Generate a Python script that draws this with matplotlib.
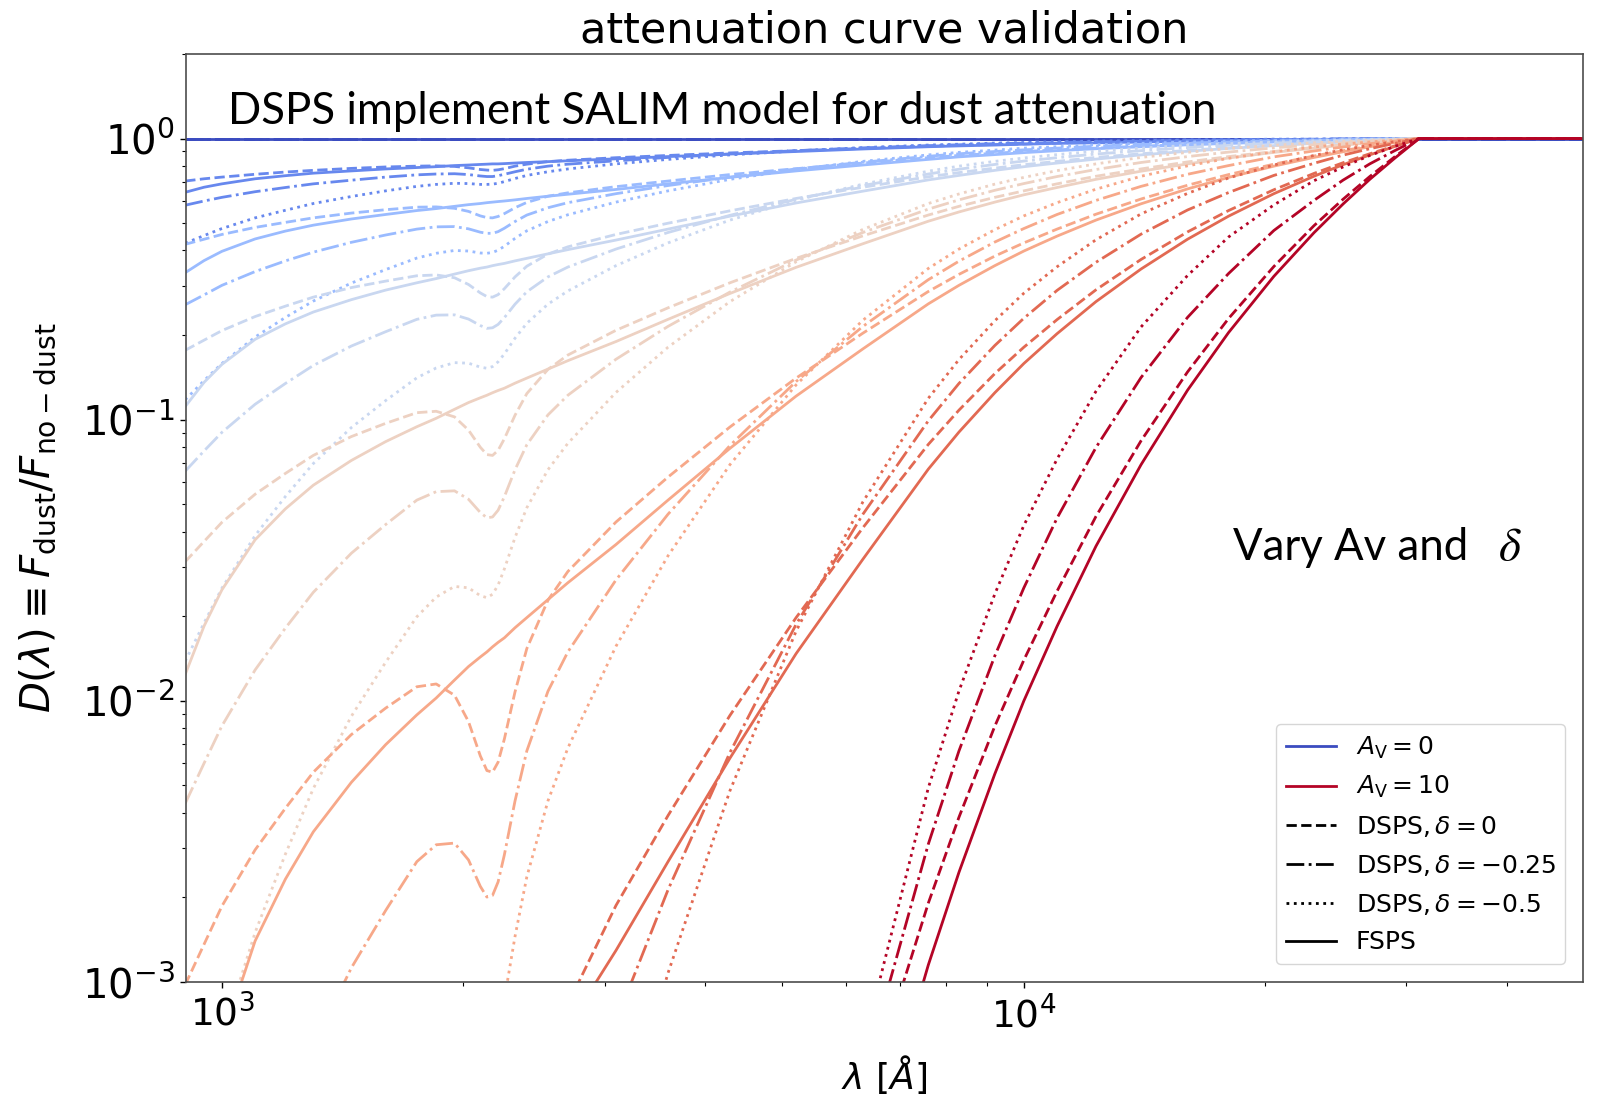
import matplotlib.pyplot as plt
import numpy as np
from matplotlib.lines import Line2D

# wavelength grid [Angstrom]
wave = [900, 950, 1000, 1100, 1200, 1300, 1450, 1600, 1750, 1850,
        1950, 2030, 2100, 2140, 2175, 2210, 2250, 2320, 2400, 2550,
        2700, 3100, 3600, 4300, 5200, 6300, 7600, 8300, 9200, 10000,
        11000, 12300, 14000, 16000, 18000, 20500, 23000, 25000, 27000, 29000, 31100, 50000]

av_values = [0, 0.1, 0.25, 0.5, 1, 2, 4, 10]

ZERO = [0.0] * len(wave)

# log10 D(lambda), DSPS with delta = 0, one row per A_V
lg_dsps_d0 = [
    ZERO,
    [-0.151, -0.143, -0.137, -0.127, -0.119, -0.113, -0.106, -0.101, -0.098, -0.097,
     -0.099, -0.104, -0.110, -0.112, -0.113, -0.111, -0.107, -0.098, -0.091, -0.082,
     -0.077, -0.068, -0.060, -0.051, -0.043, -0.035, -0.027, -0.024, -0.021, -0.019,
     -0.016, -0.013, -0.011, -0.008, -0.006, -0.005, -0.003, -0.002, -0.001, -0.001, 0, 0],
    [-0.376, -0.358, -0.341, -0.316, -0.298, -0.282, -0.265, -0.253, -0.244, -0.243,
     -0.248, -0.259, -0.275, -0.281, -0.282, -0.277, -0.267, -0.246, -0.227, -0.205,
     -0.193, -0.171, -0.151, -0.128, -0.107, -0.087, -0.068, -0.060, -0.052, -0.046,
     -0.040, -0.034, -0.027, -0.021, -0.016, -0.011, -0.008, -0.005, -0.003, -0.002, 0, 0],
    [-0.753, -0.717, -0.683, -0.633, -0.596, -0.564, -0.530, -0.507, -0.488, -0.485,
     -0.495, -0.519, -0.549, -0.562, -0.564, -0.555, -0.534, -0.492, -0.454, -0.411,
     -0.385, -0.341, -0.301, -0.257, -0.213, -0.173, -0.136, -0.121, -0.105, -0.093,
     -0.081, -0.067, -0.054, -0.042, -0.032, -0.023, -0.016, -0.011, -0.007, -0.003, 0, 0],
    [-1.505, -1.433, -1.365, -1.265, -1.191, -1.127, -1.060, -1.013, -0.975, -0.970,
     -0.990, -1.037, -1.098, -1.124, -1.127, -1.109, -1.068, -0.984, -0.907, -0.821,
     -0.770, -0.682, -0.602, -0.513, -0.426, -0.346, -0.272, -0.241, -0.209, -0.186,
     -0.161, -0.134, -0.108, -0.083, -0.064, -0.046, -0.031, -0.022, -0.014, -0.007, 0, 0],
    [-3.01, -2.866, -2.73, -2.53, -2.382, -2.254, -2.12, -2.026, -1.95, -1.94,
     -1.98, -2.074, -2.196, -2.248, -2.254, -2.218, -2.136, -1.968, -1.814, -1.642,
     -1.54, -1.364, -1.204, -1.026, -0.852, -0.692, -0.544, -0.483, -0.418, -0.371,
     -0.322, -0.269, -0.215, -0.166, -0.128, -0.091, -0.062, -0.043, -0.027, -0.013, 0, 0],
    [-6.02, -5.732, -5.46, -5.06, -4.764, -4.508, -4.24, -4.052, -3.90, -3.88,
     -3.96, -4.148, -4.392, -4.496, -4.508, -4.436, -4.272, -3.936, -3.628, -3.284,
     -3.08, -2.728, -2.408, -2.052, -1.704, -1.384, -1.088, -0.966, -0.836, -0.742,
     -0.644, -0.538, -0.43, -0.332, -0.256, -0.182, -0.124, -0.086, -0.054, -0.026, 0, 0],
    [-15.05, -14.33, -13.65, -12.65, -11.91, -11.27, -10.60, -10.13, -9.75, -9.70,
     -9.90, -10.37, -10.98, -11.24, -11.27, -11.09, -10.68, -9.84, -9.07, -8.21,
     -7.70, -6.82, -6.02, -5.13, -4.26, -3.46, -2.72, -2.414, -2.09, -1.855,
     -1.61, -1.344, -1.075, -0.83, -0.64, -0.455, -0.31, -0.216, -0.135, -0.065, 0, 0],
]

# log10 D(lambda), DSPS with delta = -0.25
lg_dsps_d025 = [
    ZERO,
    [-0.237, -0.222, -0.209, -0.189, -0.174, -0.161, -0.148, -0.137, -0.129, -0.126,
     -0.125, -0.128, -0.133, -0.135, -0.135, -0.132, -0.127, -0.118, -0.109, -0.098,
     -0.091, -0.079, -0.067, -0.055, -0.043, -0.033, -0.025, -0.022, -0.018, -0.016,
     -0.014, -0.011, -0.009, -0.006, -0.005, -0.003, -0.002, -0.001, -0.001, 0, 0, 0],
    [-0.591, -0.556, -0.522, -0.473, -0.435, -0.404, -0.369, -0.343, -0.322, -0.314,
     -0.313, -0.321, -0.333, -0.337, -0.337, -0.331, -0.319, -0.295, -0.272, -0.246,
     -0.228, -0.196, -0.167, -0.137, -0.108, -0.084, -0.063, -0.054, -0.046, -0.040,
     -0.034, -0.027, -0.021, -0.016, -0.012, -0.008, -0.006, -0.004, -0.002, -0.001, 0, 0],
    [-1.183, -1.111, -1.045, -0.945, -0.871, -0.807, -0.738, -0.687, -0.643, -0.628,
     -0.627, -0.642, -0.665, -0.675, -0.673, -0.661, -0.637, -0.589, -0.545, -0.492,
     -0.457, -0.393, -0.334, -0.273, -0.216, -0.167, -0.126, -0.109, -0.092, -0.080,
     -0.068, -0.055, -0.043, -0.032, -0.024, -0.016, -0.011, -0.007, -0.005, -0.002, 0, 0],
    [-2.365, -2.222, -2.089, -1.890, -1.741, -1.614, -1.475, -1.373, -1.286, -1.256,
     -1.253, -1.283, -1.330, -1.349, -1.346, -1.322, -1.274, -1.178, -1.089, -0.983,
     -0.913, -0.785, -0.668, -0.546, -0.432, -0.334, -0.251, -0.218, -0.184, -0.160,
     -0.135, -0.110, -0.085, -0.064, -0.048, -0.033, -0.022, -0.015, -0.009, -0.004, 0, 0],
    [-4.73, -4.444, -4.178, -3.78, -3.482, -3.228, -2.95, -2.746, -2.572, -2.512,
     -2.506, -2.566, -2.66, -2.698, -2.692, -2.644, -2.548, -2.356, -2.178, -1.966,
     -1.826, -1.57, -1.336, -1.092, -0.864, -0.668, -0.502, -0.436, -0.368, -0.320,
     -0.27, -0.220, -0.17, -0.127, -0.096, -0.065, -0.044, -0.030, -0.018, -0.009, 0, 0],
    [-9.46, -8.888, -8.356, -7.56, -6.964, -6.456, -5.90, -5.492, -5.144, -5.02,
     -5.01, -5.13, -5.32, -5.40, -5.38, -5.29, -5.10, -4.71, -4.356, -3.932,
     -3.652, -3.14, -2.672, -2.184, -1.728, -1.336, -1.004, -0.871, -0.736, -0.639,
     -0.54, -0.440, -0.34, -0.254, -0.192, -0.131, -0.088, -0.059, -0.036, -0.017, 0, 0],
    [-23.65, -22.22, -20.89, -18.90, -17.41, -16.14, -14.75, -13.73, -12.86, -12.56,
     -12.53, -12.83, -13.30, -13.49, -13.46, -13.22, -12.74, -11.78, -10.89, -9.83,
     -9.13, -7.85, -6.68, -5.46, -4.32, -3.34, -2.51, -2.178, -1.84, -1.598,
     -1.35, -1.099, -0.85, -0.636, -0.48, -0.327, -0.22, -0.148, -0.09, -0.043, 0, 0],
]

# log10 D(lambda), DSPS with delta = -0.5
lg_dsps_d05 = [
    ZERO,
    [-0.372, -0.345, -0.320, -0.282, -0.255, -0.231, -0.206, -0.186, -0.170, -0.163,
     -0.159, -0.160, -0.163, -0.163, -0.162, -0.159, -0.153, -0.142, -0.131, -0.118,
     -0.108, -0.090, -0.074, -0.058, -0.044, -0.032, -0.023, -0.020, -0.016, -0.014,
     -0.011, -0.009, -0.007, -0.005, -0.004, -0.002, -0.002, -0.001, -0.001, 0, 0, 0],
    [-0.929, -0.861, -0.800, -0.706, -0.636, -0.578, -0.514, -0.466, -0.425, -0.408,
     -0.398, -0.400, -0.407, -0.408, -0.405, -0.397, -0.383, -0.355, -0.328, -0.295,
     -0.271, -0.226, -0.186, -0.145, -0.110, -0.081, -0.058, -0.049, -0.041, -0.034,
     -0.029, -0.022, -0.017, -0.012, -0.009, -0.006, -0.004, -0.003, -0.002, -0.001, 0, 0],
    [-1.859, -1.723, -1.599, -1.412, -1.273, -1.156, -1.028, -0.932, -0.851, -0.816,
     -0.797, -0.799, -0.813, -0.817, -0.811, -0.794, -0.766, -0.710, -0.657, -0.589,
     -0.542, -0.452, -0.371, -0.290, -0.219, -0.162, -0.116, -0.098, -0.081, -0.069,
     -0.057, -0.045, -0.034, -0.024, -0.018, -0.012, -0.008, -0.005, -0.003, -0.001, 0, 0],
    [-3.717, -3.445, -3.198, -2.824, -2.545, -2.312, -2.055, -1.863, -1.701, -1.631,
     -1.593, -1.598, -1.626, -1.633, -1.621, -1.588, -1.531, -1.419, -1.313, -1.178,
     -1.084, -0.903, -0.742, -0.580, -0.438, -0.323, -0.231, -0.197, -0.162, -0.138,
     -0.114, -0.090, -0.067, -0.049, -0.035, -0.024, -0.015, -0.010, -0.006, -0.003, 0, 0],
    [-7.434, -6.89, -6.396, -5.648, -5.09, -4.624, -4.11, -3.726, -3.402, -3.262,
     -3.186, -3.196, -3.252, -3.266, -3.242, -3.176, -3.062, -2.838, -2.626, -2.356,
     -2.168, -1.806, -1.484, -1.16, -0.876, -0.646, -0.462, -0.393, -0.324, -0.275,
     -0.228, -0.180, -0.134, -0.097, -0.07, -0.047, -0.03, -0.020, -0.012, -0.006, 0, 0],
    [-14.87, -13.78, -12.79, -11.30, -10.18, -9.248, -8.22, -7.452, -6.804, -6.52,
     -6.37, -6.39, -6.50, -6.53, -6.48, -6.35, -6.12, -5.68, -5.252, -4.712,
     -4.336, -3.612, -2.968, -2.32, -1.752, -1.292, -0.924, -0.786, -0.648, -0.550,
     -0.456, -0.360, -0.268, -0.195, -0.14, -0.094, -0.06, -0.040, -0.024, -0.011, 0, 0],
    [-37.17, -34.45, -31.98, -28.24, -25.45, -23.12, -20.55, -18.63, -17.01, -16.31,
     -15.93, -15.98, -16.26, -16.33, -16.21, -15.88, -15.31, -14.19, -13.13, -11.78,
     -10.84, -9.03, -7.42, -5.80, -4.38, -3.23, -2.31, -1.965, -1.62, -1.376,
     -1.14, -0.899, -0.67, -0.487, -0.35, -0.236, -0.15, -0.101, -0.06, -0.028, 0, 0],
]

# log10 D(lambda), FSPS
lg_fsps = [
    ZERO,
    [-0.191, -0.173, -0.161, -0.143, -0.132, -0.123, -0.115, -0.108, -0.103, -0.100,
     -0.096, -0.094, -0.092, -0.091, -0.090, -0.090, -0.089, -0.087, -0.085, -0.082,
     -0.079, -0.072, -0.064, -0.055, -0.046, -0.037, -0.029, -0.026, -0.023, -0.020,
     -0.017, -0.015, -0.012, -0.009, -0.007, -0.005, -0.003, -0.002, -0.001, -0.001, 0, 0],
    [-0.477, -0.434, -0.401, -0.357, -0.329, -0.308, -0.286, -0.270, -0.256, -0.249,
     -0.241, -0.235, -0.231, -0.228, -0.226, -0.224, -0.222, -0.218, -0.213, -0.205,
     -0.198, -0.181, -0.161, -0.138, -0.115, -0.094, -0.074, -0.065, -0.057, -0.050,
     -0.043, -0.036, -0.029, -0.022, -0.017, -0.012, -0.008, -0.006, -0.004, -0.002, 0, 0],
    [-0.953, -0.867, -0.803, -0.714, -0.659, -0.617, -0.573, -0.539, -0.513, -0.498,
     -0.482, -0.470, -0.461, -0.457, -0.452, -0.448, -0.444, -0.435, -0.426, -0.410,
     -0.395, -0.361, -0.322, -0.276, -0.229, -0.187, -0.147, -0.131, -0.113, -0.100,
     -0.087, -0.073, -0.058, -0.045, -0.035, -0.025, -0.017, -0.012, -0.007, -0.004, 0, 0],
    [-1.906, -1.734, -1.605, -1.427, -1.317, -1.233, -1.145, -1.078, -1.025, -0.995,
     -0.963, -0.939, -0.922, -0.913, -0.904, -0.896, -0.888, -0.870, -0.852, -0.820,
     -0.790, -0.722, -0.643, -0.551, -0.458, -0.374, -0.294, -0.261, -0.226, -0.200,
     -0.174, -0.145, -0.116, -0.090, -0.069, -0.049, -0.034, -0.023, -0.015, -0.007, 0, 0],
    [-3.812, -3.468, -3.21, -2.854, -2.634, -2.466, -2.29, -2.156, -2.05, -1.99,
     -1.926, -1.878, -1.844, -1.826, -1.808, -1.792, -1.776, -1.74, -1.704, -1.64,
     -1.58, -1.444, -1.286, -1.102, -0.916, -0.748, -0.588, -0.522, -0.452, -0.400,
     -0.347, -0.290, -0.232, -0.179, -0.138, -0.098, -0.067, -0.047, -0.029, -0.014, 0, 0],
    [-7.624, -6.936, -6.42, -5.708, -5.268, -4.932, -4.58, -4.312, -4.10, -3.98,
     -3.852, -3.756, -3.688, -3.652, -3.616, -3.584, -3.552, -3.48, -3.408, -3.28,
     -3.16, -2.888, -2.572, -2.204, -1.832, -1.496, -1.176, -1.044, -0.904, -0.800,
     -0.694, -0.580, -0.464, -0.358, -0.276, -0.196, -0.134, -0.093, -0.058, -0.028, 0, 0],
    [-19.06, -17.34, -16.05, -14.27, -13.17, -12.33, -11.45, -10.78, -10.25, -9.95,
     -9.63, -9.39, -9.22, -9.13, -9.04, -8.96, -8.88, -8.70, -8.52, -8.20,
     -7.90, -7.22, -6.43, -5.51, -4.58, -3.74, -2.94, -2.61, -2.26, -2.00,
     -1.735, -1.45, -1.16, -0.895, -0.69, -0.49, -0.335, -0.233, -0.145, -0.07, 0, 0],
]

LW = 2.0


def main():
    fig = plt.figure(figsize=(15.98, 10.99), dpi=100)
    ax = fig.add_axes([0.1164, 0.1065, 0.8742, 0.8444])

    cmap = plt.cm.coolwarm
    n = len(av_values)
    for i in range(n):
        color = cmap(i / (n - 1))
        ax.plot(wave, 10.0 ** np.array(lg_dsps_d0[i]), ls='--', color=color, lw=LW)
        ax.plot(wave, 10.0 ** np.array(lg_dsps_d025[i]), ls='-.', color=color, lw=LW)
        ax.plot(wave, 10.0 ** np.array(lg_dsps_d05[i]), ls=':', color=color, lw=LW)
        ax.plot(wave, 10.0 ** np.array(lg_fsps[i]), ls='-', color=color, lw=LW)

    ax.set_xscale('log')
    ax.set_yscale('log')
    ax.set_xlim(902, 49800)
    ax.set_ylim(1e-3, 2.0)

    ax.set_title('attenuation curve validation', fontsize=31, pad=8)
    ax.set_xlabel(r'$\lambda\ [\AA]$', fontsize=26)
    ax.xaxis.set_label_coords(0.5, -0.077)
    ax.set_ylabel(r'$D(\lambda) \equiv F_{\rm dust}/F_{\rm no-dust}$', fontsize=29)
    ax.yaxis.set_label_coords(-0.091, 0.5)

    ax.tick_params(which='major', length=4.5, width=1.0)
    ax.tick_params(which='minor', length=2.6, width=0.8)
    ax.tick_params(axis='x', which='major', labelsize=27, pad=5)
    ax.tick_params(axis='y', which='major', labelsize=29)
    for sp in ax.spines.values():
        sp.set_color('0.3')
        sp.set_linewidth(1.2)

    ax.text(0.030, 0.9246, 'DSPS implement SALIM model for dust attenuation',
            transform=ax.transAxes, fontsize=31.5, family='Lato', va='baseline')
    ax.text(0.7495, 0.4547, 'Vary Av and',
            transform=ax.transAxes, fontsize=31.5, family='Lato', va='baseline')
    ax.text(0.939, 0.4547, r'$\delta$', transform=ax.transAxes, fontsize=34,
            math_fontfamily='stix', va='baseline')

    handles = [
        Line2D([], [], color=cmap(0.0), lw=2),
        Line2D([], [], color=cmap(1.0), lw=2),
        Line2D([], [], color='k', ls='--', lw=2),
        Line2D([], [], color='k', ls='-.', lw=2),
        Line2D([], [], color='k', ls=':', lw=2),
        Line2D([], [], color='k', ls='-', lw=2),
    ]
    labels = [
        r'$A_{\rm V}=0$',
        r'$A_{\rm V}=10$',
        r'$\mathrm{DSPS}, \delta=0$',
        r'$\mathrm{DSPS}, \delta=-0.25$',
        r'$\mathrm{DSPS}, \delta=-0.5$',
        'FSPS',
    ]
    ax.legend(handles, labels, loc='lower right', fontsize=18, labelspacing=0.55,
              borderaxespad=0.7)

    fig.savefig('out.png', dpi=100)


if __name__ == '__main__':
    main()
